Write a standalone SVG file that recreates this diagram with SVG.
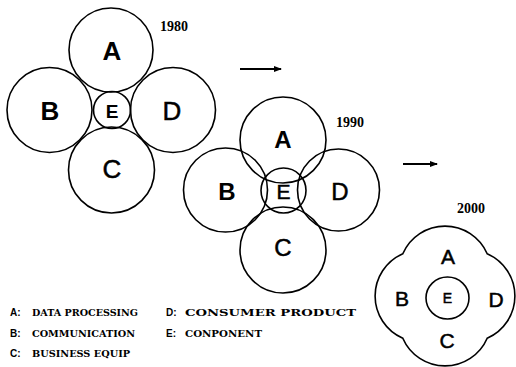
<svg xmlns="http://www.w3.org/2000/svg" width="516" height="367" viewBox="0 0 516 367">
<style>
.c{fill:none;stroke:#000;stroke-width:1.6}
.lb{font-family:"Liberation Sans",Arial,sans-serif;font-weight:bold;text-anchor:middle;dominant-baseline:central;fill:#000}
.ln{font-family:"Liberation Sans",Arial,sans-serif;font-weight:normal;text-anchor:middle;dominant-baseline:central;fill:#000;stroke:#000;stroke-width:0.5}
.yr{font-family:"Liberation Serif","Times New Roman",serif;font-weight:bold;font-size:14px;fill:#000}
.lg{font-family:"DejaVu Serif","Liberation Serif",serif;font-weight:bold;font-size:9.5px;fill:#000}
.lk{font-family:"Liberation Sans",Arial,sans-serif;font-weight:bold;font-size:10px;fill:#000}
.ar{stroke:#000;stroke-width:2;fill:none}
</style>
<defs>
<marker id="ah" markerWidth="8" markerHeight="6" refX="7" refY="3" orient="auto" markerUnits="userSpaceOnUse">
<path d="M0,0 L8,3 L0,6 Z" fill="#000"/>
</marker>
</defs>

<g id="y1980">
<g id="n1980A"><circle class="c" cx="111" cy="50" r="42"/><text class="lb" x="112" y="51" font-size="26">A</text></g>
<g id="n1980B"><circle class="c" cx="49.5" cy="110" r="42.5"/><text class="lb" x="50" y="111" font-size="26">B</text></g>
<g id="n1980D"><circle class="c" cx="173" cy="110" r="42.5"/><text class="ln" x="172" y="111" font-size="26">D</text></g>
<g id="n1980C"><circle class="c" cx="111.5" cy="170" r="43"/><text class="ln" x="112" y="169" font-size="26">C</text></g>
<g id="n1980E"><circle class="c" cx="112" cy="110" r="18.5"/><text class="lb" x="112" y="111" font-size="19">E</text></g>
<text class="yr" x="160" y="31">1980</text>
</g>

<g id="y1990">
<g id="n1990A"><circle class="c" cx="283" cy="140" r="43"/><text class="lb" x="283" y="139" font-size="24">A</text></g>
<g id="n1990B"><circle class="c" cx="225.5" cy="190" r="42"/><text class="lb" x="227" y="191" font-size="24">B</text></g>
<g id="n1990D"><circle class="c" cx="338.5" cy="190" r="41"/><text class="ln" x="340" y="191" font-size="24">D</text></g>
<g id="n1990C"><circle class="c" cx="283" cy="250" r="43"/><text class="ln" x="283" y="247" font-size="24">C</text></g>
<g id="n1990E"><circle class="c" cx="283.5" cy="190.5" r="22.5"/><text class="ln" x="283.5" y="191" font-size="21">E</text></g>
<text class="yr" x="336" y="127">1990</text>
</g>

<g id="y2000">
<g id="n2000outer"><path class="c" d="M402.8,253.8 A46,46 0 0 1 487.2,253.8 A46,46 0 0 1 487.2,338.2 A46,46 0 0 1 402.8,338.2 A46,46 0 0 1 402.8,253.8 Z"/></g>
<g id="n2000A"><text class="ln" x="448" y="256" font-size="21">A</text></g>
<g id="n2000B"><text class="ln" x="402" y="298" font-size="21">B</text></g>
<g id="n2000D"><text class="ln" x="496" y="299" font-size="21">D</text></g>
<g id="n2000C"><text class="ln" x="447" y="340" font-size="21">C</text></g>
<g id="n2000E"><ellipse class="c" cx="447.5" cy="298" rx="21.5" ry="21"/><text class="ln" x="447.5" y="298" font-size="14" stroke-width="0.2">E</text></g>
<text class="yr" x="457" y="213">2000</text>
</g>

<g id="connectors">
<line class="ar" x1="240" y1="69" x2="281" y2="69" marker-end="url(#ah)"/>
<line class="ar" x1="403" y1="164" x2="437" y2="164" marker-end="url(#ah)"/>
</g>

<g id="legend">
<text class="lk" x="10" y="316">A:</text><text class="lg" x="32" y="316" textLength="106" lengthAdjust="spacingAndGlyphs">DATA PROCESSING</text>
<text class="lk" x="10" y="337">B:</text><text class="lg" x="32" y="337" textLength="103" lengthAdjust="spacingAndGlyphs">COMMUNICATION</text>
<text class="lk" x="10" y="357">C:</text><text class="lg" x="32" y="357" textLength="98" lengthAdjust="spacingAndGlyphs">BUSINESS EQUIP</text>
<text class="lk" x="166" y="316">D:</text><text class="lg" x="185" y="316" textLength="171" lengthAdjust="spacingAndGlyphs">CONSUMER PRODUCT</text>
<text class="lk" x="166" y="337">E:</text><text class="lg" x="185" y="337" textLength="77" lengthAdjust="spacingAndGlyphs">CONPONENT</text>
</g>
</svg>
